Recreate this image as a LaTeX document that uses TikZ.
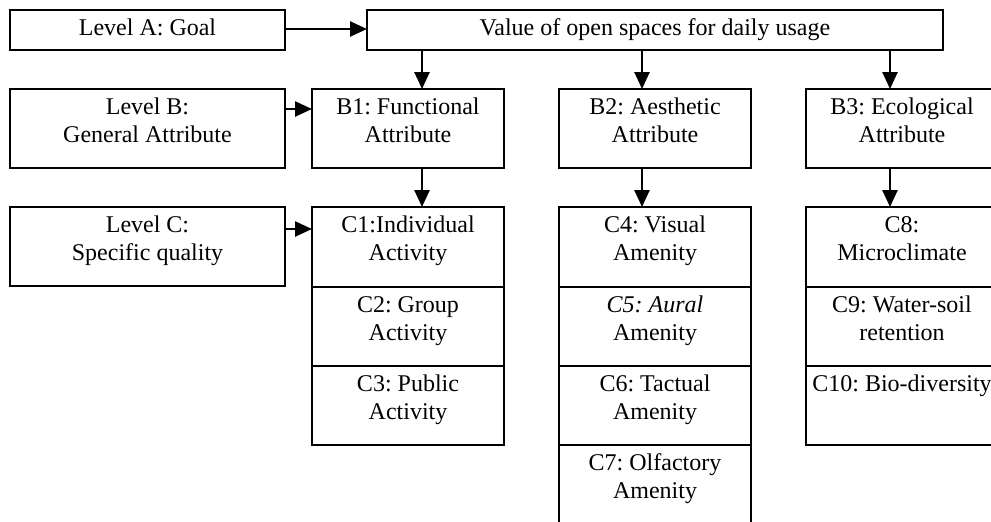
\documentclass[tikz,border=0pt]{standalone}
\usepackage{fontspec}
\setmainfont{Liberation Serif}
\usetikzlibrary{arrows.meta}
\frenchspacing
\newcommand{\bx}[3]{\parbox[c][#2][t]{#1}{\centering\frenchspacing\rule{0pt}{12.5pt}#3}}
\tikzset{
  box/.style={draw, line width=0.8pt, rectangle, inner sep=0pt, outer sep=0pt,
    font=\fontsize{12}{14}\selectfont},
  arr/.style={line width=1.3pt, -{Triangle[length=8.5pt,width=7.5pt]}}
}
\begin{document}
\begin{tikzpicture}[x=0.5pt,y=-0.5pt]
\useasboundingbox (0,0) rectangle (991,521);
\fill[white] (0,0) rectangle (991,521);
\clip (0,0) rectangle (991,521);
% Level A
\node[box] (LA) at (147.5,30) {\bx{137.5pt}{20pt}{Level A: Goal}};
\node[box] (V) at (655,30) {\bx{288pt}{20pt}{Value of open spaces for daily usage}};
% Level B
\node[box] (LB) at (147.5,128.5) {\bx{137.5pt}{39.5pt}{Level B:\\General Attribute}};
\node[box] (B1) at (408,128.5) {\bx{96pt}{39.5pt}{B1: Functional\\Attribute}};
\node[box] (B2) at (655,128.5) {\bx{96pt}{39.5pt}{B2: Aesthetic\\Attribute}};
\node[box] (B3) at (902,128.5) {\bx{96pt}{39.5pt}{B3: Ecological\\Attribute}};
% Level C
\node[box] (LC) at (147.5,246.5) {\bx{137.5pt}{39.5pt}{Level C:\\Specific quality}};
\node[box] (C1) at (408,247) {\bx{96pt}{40pt}{C1:Individual\\Activity}};
\node[box] (C2) at (408,326.5) {\bx{96pt}{39.5pt}{C2: Group\\Activity}};
\node[box] (C3) at (408,405.5) {\bx{96pt}{39.5pt}{C3: Public\\Activity}};
\node[box] (C4) at (655,247) {\bx{96pt}{40pt}{C4: Visual\\Amenity}};
\node[box] (C5) at (655,326.5) {\bx{96pt}{39.5pt}{\textit{C5: Aural}\\Amenity}};
\node[box] (C6) at (655,405.5) {\bx{96pt}{39.5pt}{C6: Tactual\\Amenity}};
\node[box] (C7) at (655,485) {\bx{96pt}{40pt}{C7: Olfactory\\Amenity}};
\node[box] (C8) at (902,247) {\bx{96pt}{40pt}{C8:\\Microclimate}};
\node[box] (C9) at (902,326.5) {\bx{96pt}{39.5pt}{C9: Water-soil\\retention}};
\node[box] (C10) at (902,405.5) {\bx{96pt}{39.5pt}{C10: Bio-diversity}};
% guide coordinates
\coordinate (g1) at (422,0);
\coordinate (g2) at (642,0);
\coordinate (g3) at (890,0);
\coordinate (hA) at (0,29);
\coordinate (hB) at (0,109);
\coordinate (hC) at (0,229);
% connectors
\draw[arr] (LA.east |- hA) -- (V.west |- hA);
\draw[arr] (LB.east |- hB) -- (B1.west |- hB);
\draw[arr] (LC.east |- hC) -- (C1.west |- hC);
\draw[arr] (V.south -| g1) -- (B1.north -| g1);
\draw[arr] (V.south -| g2) -- (B2.north -| g2);
\draw[arr] (V.south -| g3) -- (B3.north -| g3);
\draw[arr] (B1.south -| g1) -- (C1.north -| g1);
\draw[arr] (B2.south -| g2) -- (C4.north -| g2);
\draw[arr] (B3.south -| g3) -- (C8.north -| g3);
\end{tikzpicture}
\end{document}
